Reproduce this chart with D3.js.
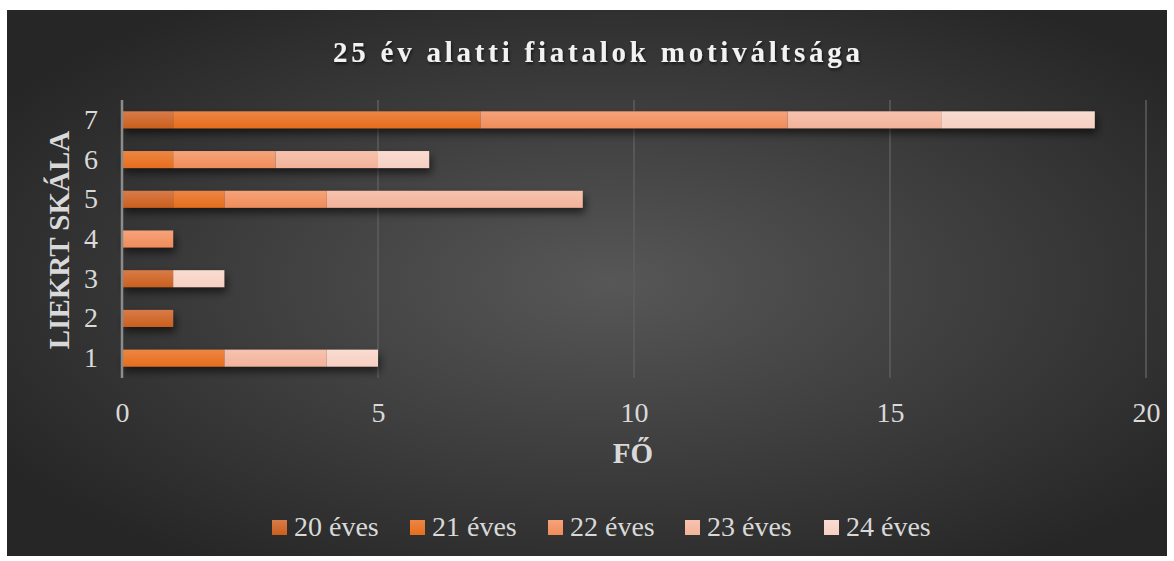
<!DOCTYPE html>
<html>
<head>
<meta charset="utf-8">
<script src="https://cdn.jsdelivr.net/npm/d3@7"></script>
<style>
  body { margin: 0; background: #fff; }
  text { font-family: "Liberation Serif", "Times New Roman", serif; }
</style>
</head>
<body>
<div id="chart"></div>
<script>
// chart data
var categories = ["7", "6", "5", "4", "3", "2", "1"];
var seriesNames = ["20 éves", "21 éves", "22 éves", "23 éves", "24 éves"];
var s20 = [1, 0, 1, 0, 1, 1, 0];
var s21 = [6, 1, 1, 0, 0, 0, 2];
var s22 = [6, 2, 2, 1, 0, 0, 0];
var s23 = [3, 2, 5, 0, 0, 0, 2];
var s24 = [3, 1, 0, 0, 1, 0, 1];
var xTicks = [0, 5, 10, 15, 20];
var colors = ["#cb5f1d", "#e66d1c", "#f08c5a", "#f2b29a", "#f6cfc2"];
var colorsTop = ["#d87b48", "#ec8644", "#f6a37a", "#f7c3ae", "#fadcd1"];

var W = 1174, H = 561;
var svg = d3.select("#chart").append("svg")
    .attr("width", W)
    .attr("height", H);

var defs = svg.append("defs");
var bg = defs.append("radialGradient").attr("id", "bg")
    .attr("cx", "52%").attr("cy", "50%").attr("r", "62%");
bg.append("stop").attr("offset", "0%").attr("stop-color", "#575757");
bg.append("stop").attr("offset", "100%").attr("stop-color", "#262626");

colors.forEach(function(c, i) {
  var g = defs.append("linearGradient").attr("id", "grad" + i)
      .attr("x1", 0).attr("y1", 0).attr("x2", 0).attr("y2", 1);
  g.append("stop").attr("offset", "0%").attr("stop-color", colorsTop[i]);
  g.append("stop").attr("offset", "100%").attr("stop-color", c);
});

var shadow = defs.append("filter").attr("id", "shadow")
    .attr("x", "-10%").attr("y", "-60%").attr("width", "130%").attr("height", "280%");
shadow.append("feDropShadow").attr("dx", 2).attr("dy", 5)
    .attr("stdDeviation", 4).attr("flood-color", "#000").attr("flood-opacity", 0.6);

var txtShadow = defs.append("filter").attr("id", "tshadow")
    .attr("x", "-10%").attr("y", "-30%").attr("width", "120%").attr("height", "160%");
txtShadow.append("feDropShadow").attr("dx", 1).attr("dy", 2)
    .attr("stdDeviation", 1.5).attr("flood-color", "#000").attr("flood-opacity", 0.6);

svg.append("rect")
    .attr("x", 7).attr("y", 10)
    .attr("width", 1160).attr("height", 546)
    .attr("fill", "url(#bg)");

var x = d3.scaleLinear().domain([0, 20]).range([122, 1146]);
var y = d3.scaleBand().domain(categories).range([100, 378])
    .paddingInner(0.57).paddingOuter(0.285);

// gridlines
svg.append("g").selectAll("line")
    .data(xTicks.slice(1))
    .enter().append("line")
      .attr("x1", function(d) { return x(d); })
      .attr("x2", function(d) { return x(d); })
      .attr("y1", 100).attr("y2", 378)
      .attr("stroke", "#5e5e5e")
      .attr("stroke-width", 1.5);

// stacked bars
var rows = categories.map(function(c, i) {
  return { cat: c, s0: s20[i], s1: s21[i], s2: s22[i], s3: s23[i], s4: s24[i] };
});
var keys = ["s0", "s1", "s2", "s3", "s4"];
var stack = d3.stack().keys(keys)(rows);

var barG = svg.append("g");
// shadow layer drawn under whole bars
barG.selectAll("rect.sh")
    .data(rows)
    .enter().append("rect")
      .attr("class", "sh")
      .attr("x", x(0))
      .attr("y", function(d) { return y(d.cat); })
      .attr("width", function(d) { return x(d.s0 + d.s1 + d.s2 + d.s3 + d.s4) - x(0); })
      .attr("height", y.bandwidth())
      .attr("fill", "#333")
      .attr("filter", "url(#shadow)");

barG.selectAll("g.series")
    .data(stack)
    .enter().append("g")
      .attr("class", "series")
      .attr("fill", function(d, i) { return "url(#grad" + i + ")"; })
    .selectAll("rect")
    .data(function(d) { return d.filter(function(p) { return p[1] > p[0]; }); })
    .enter().append("rect")
      .attr("x", function(d) { return x(d[0]); })
      .attr("y", function(d) { return y(d.data.cat); })
      .attr("width", function(d) { return x(d[1]) - x(d[0]); })
      .attr("height", y.bandwidth());

// y axis line
svg.append("line")
    .attr("x1", x(0)).attr("x2", x(0))
    .attr("y1", 100).attr("y2", 378)
    .attr("stroke", "#8c8c8c")
    .attr("stroke-width", 2.5);

// x tick labels
var xAxis = d3.axisBottom(x).tickValues(xTicks).tickSize(0).tickPadding(0);
var xg = svg.append("g")
    .attr("transform", "translate(0,422)")
    .call(xAxis);
xg.select(".domain").remove();
xg.selectAll("text")
    .attr("y", 0).attr("dy", 0)
    .attr("fill", "#d9d9d9")
    .attr("font-size", "28px")
    .attr("font-family", "Liberation Serif, serif");

// y tick labels
var yAxis = d3.axisLeft(y).tickSize(0).tickPadding(0);
var yg = svg.append("g")
    .attr("transform", "translate(98,0)")
    .call(yAxis);
yg.select(".domain").remove();
yg.selectAll("text")
    .attr("fill", "#d9d9d9")
    .attr("font-size", "28px")
    .attr("font-family", "Liberation Serif, serif");

// title
svg.append("text")
    .attr("x", 333).attr("y", 62)
    .attr("textLength", 527)
    .attr("lengthAdjust", "spacing")
    .attr("font-size", "29px")
    .attr("font-weight", "bold")
    .attr("fill", "#f2f2f2")
    .attr("filter", "url(#tshadow)")
    .text("25 év alatti fiatalok motiváltsága");

// axis titles
svg.append("text")
    .attr("x", 633).attr("y", 463)
    .attr("text-anchor", "middle")
    .attr("font-size", "29px")
    .attr("font-weight", "bold")
    .attr("fill", "#d9d9d9")
    .text("FŐ");

svg.append("text")
    .attr("transform", "translate(69,240) rotate(-90)")
    .attr("text-anchor", "middle")
    .attr("font-size", "29px")
    .attr("font-weight", "bold")
    .attr("fill", "#d9d9d9")
    .text("LIEKRT SKÁLA");

// legend
var legendX = [272, 410, 548, 685, 824];
var lg = svg.append("g").selectAll("g")
    .data(seriesNames)
    .enter().append("g")
      .attr("transform", function(d, i) { return "translate(" + legendX[i] + ",520)"; });
lg.append("rect")
    .attr("width", 15).attr("height", 15)
    .attr("fill", function(d, i) { return "url(#grad" + i + ")"; });
lg.append("text")
    .attr("x", 22).attr("y", 16)
    .attr("font-size", "28px")
    .attr("fill", "#d9d9d9")
    .text(function(d) { return d; });
</script>
</body>
</html>
